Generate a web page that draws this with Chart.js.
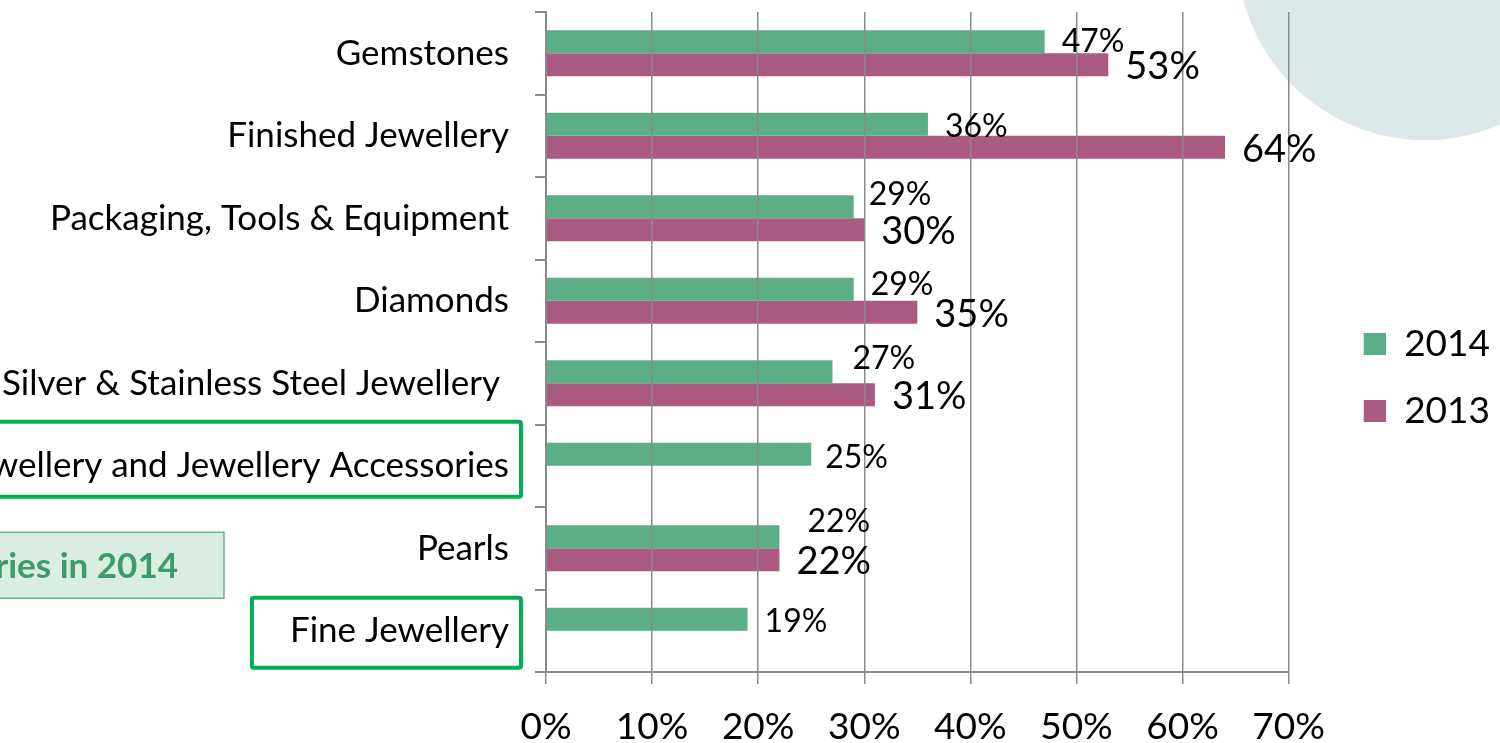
<!DOCTYPE html>
<html>
<head>
  <script src="https://cdn.jsdelivr.net/npm/chart.js"></script>
  <title>Exhibitor categories</title>
  <style>
    body { margin: 0; background: #fff; }
    #wrap { width: 1500px; height: 743px; }
  </style>
</head>
<body>
  <div id="wrap"><canvas id="chart"></canvas></div>

  <script>
    // categories, top to bottom
    let categories = [
      'Gemstones',
      'Finished Jewellery',
      'Packaging, Tools & Equipment',
      'Diamonds',
      'Silver & Stainless Steel Jewellery ',
      'Fashion Jewellery and Jewellery Accessories',
      'Pearls',
      'Fine Jewellery'
    ];
    let share2014 = [47, 36, 29, 29, 27, 25, 22, 19];
    let share2013 = [53, 64, 30, 35, 31, null, 22, null];
    let xTicks = [0, 10, 20, 30, 40, 50, 60, 70];

    // categories that only appear in 2014
    let newIn2014 = [5, 7];

    // hand nudges for the 2014 labels so they clear the 2013 ones
    let liftY2014 = [0, 2, -12, -5, -13, 3, -15, 2];
    let shiftX2014 = [17, 17, 15, 17, 20, 14, 28, 17];

    let green = '#5BAE85';
    let plum = '#AB5A82';
    let font = 'Lato, "Open Sans", sans-serif';

    // legend swatch: blank lead-in, square at the right end
    function swatch(color) {
      let cv = document.createElement('canvas');
      cv.width = 67;
      cv.height = 22;
      let g = cv.getContext('2d');
      g.fillStyle = color;
      g.fillRect(45, 0, 22, 22);
      return cv;
    }

    // soft circle in the top-right corner
    let backdrop = {
      id: 'backdrop',
      beforeDraw(chart) {
        let c = chart.ctx;
        c.save();
        c.fillStyle = '#DDE8EA';
        c.beginPath();
        c.arc(1425, -48, 188, 0, Math.PI * 2);
        c.fill();
        c.restore();
      }
    };

    // value labels to the right of each bar
    let valueLabels = {
      id: 'valueLabels',
      afterDraw(chart) {
        let c = chart.ctx;
        c.save();
        c.fillStyle = '#000';
        c.textBaseline = 'middle';
        c.textAlign = 'left';
        chart.data.datasets.forEach((ds, i) => {
          let meta = chart.getDatasetMeta(i);
          c.font = (i === 0 ? 32 : 38) + 'px ' + font;
          meta.data.forEach((bar, j) => {
            if (ds.data[j] == null) return;
            let dx = i === 0 ? shiftX2014[j] : 17;
            let dy = i === 0 ? liftY2014[j] : 2;
            c.fillText(ds.data[j] + '%', bar.x + dx, bar.y + dy);
          });
        });
        c.restore();
      }
    };

    // outlines around the new categories and the note box
    let callouts = {
      id: 'callouts',
      afterDraw(chart) {
        let c = chart.ctx;
        let y = chart.scales.y;
        let right = y.right - 11 - 26;
        let boxes = [[-44, 75], [-33, 70]];
        c.save();
        c.font = '35px ' + font;
        c.strokeStyle = '#00B050';
        c.lineWidth = 4;
        newIn2014.forEach((k, n) => {
          let cy = y.getPixelForValue(k);
          let w = c.measureText(categories[k]).width;
          let x0 = Math.max(right - w - 38, -10);
          c.beginPath();
          c.roundRect(x0, cy + boxes[n][0], right + 12 - x0, boxes[n][1], 2);
          c.stroke();
        });

        let py = y.getPixelForValue(6);
        c.fillStyle = '#D9EDE2';
        c.strokeStyle = '#6BB38F';
        c.lineWidth = 1.5;
        c.fillRect(-10, py - 16, 234, 66);
        c.strokeRect(-10, py - 16, 234, 66);
        c.fillStyle = '#3A9B6B';
        c.font = 'bold 35px ' + font;
        c.textAlign = 'right';
        c.textBaseline = 'middle';
        c.fillText('New Categories in 2014', 178, py + 18);
        c.restore();
      }
    };

    let ctx = document.getElementById('chart').getContext('2d');
    new Chart(ctx, {
      type: 'bar',
      data: {
        labels: categories,
        datasets: [
          { label: '2014', data: share2014, backgroundColor: green, borderWidth: 0 },
          { label: '2013', data: share2013, backgroundColor: plum, borderWidth: 0 }
        ]
      },
      options: {
        indexAxis: 'y',
        responsive: true,
        maintainAspectRatio: false,
        animation: false,
        layout: { padding: { top: 12, right: 0, bottom: 0, left: 0 } },
        datasets: {
          bar: { categoryPercentage: 0.56, barPercentage: 1 }
        },
        scales: {
          x: {
            min: 0,
            max: 70,
            afterBuildTicks(axis) {
              axis.ticks = xTicks.map(v => ({ value: v }));
            },
            afterFit(axis) { axis.height = 71; },
            grid: { color: '#8A8A8A', lineWidth: 1.5, tickLength: 12, z: 1 },
            border: { color: '#8A8A8A', width: 2, z: 2 },
            ticks: {
              color: '#000',
              font: { family: font, size: 37 },
              padding: 21,
              callback: v => v + '%'
            }
          },
          y: {
            afterFit(axis) {
              axis.width = 546;
              axis.paddingTop = 0;
              axis.paddingBottom = 0;
            },
            grid: { drawOnChartArea: false, color: '#8A8A8A', lineWidth: 2, tickLength: 11 },
            border: { color: '#8A8A8A', width: 2, z: 2 },
            ticks: {
              color: '#000',
              font: { family: font, size: 35 },
              padding: 26,
              autoSkip: false
            }
          }
        },
        plugins: {
          legend: {
            position: 'right',
            labels: {
              color: '#000',
              font: { family: font, size: 37 },
              usePointStyle: true,
              pointStyleWidth: 67,
              boxHeight: 22,
              padding: 30,
              generateLabels(chart) {
                let items = Chart.defaults.plugins.legend.labels.generateLabels(chart);
                items.forEach(it => { it.pointStyle = swatch(it.fillStyle); });
                return items;
              }
            }
          },
          tooltip: { enabled: false }
        }
      },
      plugins: [backdrop, valueLabels, callouts]
    });
  </script>
</body>
</html>
